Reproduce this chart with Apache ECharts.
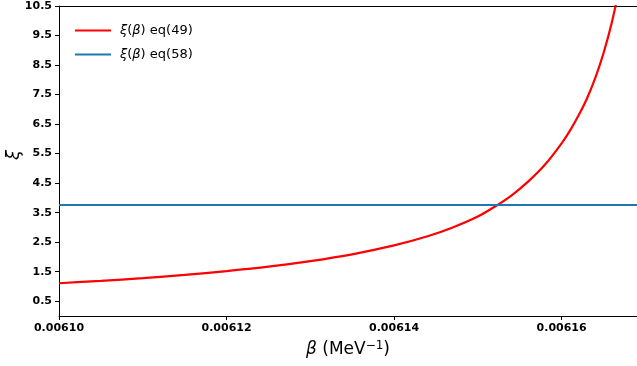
<!DOCTYPE html>
<html>
<head>
<meta charset="utf-8">
<script src="https://cdn.jsdelivr.net/npm/echarts@6/dist/echarts.min.js"></script>
<style>
  html, body { margin: 0; padding: 0; background: #fff; }
  #chart { width: 637px; height: 366px; }
</style>
</head>
<body>
<div id="chart"></div>
<script>
  // beta (MeV^-1) and xi values
  var beta49 = [0.006100, 0.006105, 0.006110, 0.006115, 0.006120, 0.006125, 0.006130, 0.006135,
    0.006140, 0.006144, 0.006147, 0.006150, 0.006152, 0.006154, 0.006156, 0.006158,
    0.006160, 0.006161, 0.006162, 0.006163, 0.006164, 0.006165, 0.006166, 0.006167];
  var xi49 = [1.11, 1.19, 1.28, 1.39, 1.52, 1.67, 1.86, 2.09,
    2.39, 2.70, 3.00, 3.37, 3.70, 4.08, 4.55, 5.12,
    5.85, 6.28, 6.78, 7.35, 8.05, 8.90, 9.95, 11.25];
  var beta58 = [0.006100, 0.006169];
  var xi58 = [3.76, 3.76];

  var xTicks = [0.00610, 0.00612, 0.00614, 0.00616];
  var yTicks = [0.5, 1.5, 2.5, 3.5, 4.5, 5.5, 6.5, 7.5, 8.5, 9.5, 10.5];

  function pairs(xs, ys) {
    return xs.map(function (x, i) { return [x, ys[i]]; });
  }

  var chart = echarts.init(document.getElementById('chart'));
  var fontFamily = 'DejaVu Sans';
  var labelStyle = { color: '#000', fontWeight: 'bold', fontSize: 11, fontFamily: fontFamily };

  chart.setOption({
    animation: false,
    textStyle: { fontFamily: fontFamily },
    grid: { left: 59, right: 0, top: 6, bottom: 50, containLabel: false, outerBoundsMode: 'none' },
    // y axis title, drawn rotated like matplotlib's ylabel
    graphic: [{
      type: 'text',
      x: 14,
      y: 155,
      rotation: Math.PI / 2,
      style: {
        text: 'ξ',
        fill: '#000',
        fontSize: 18,
        fontStyle: 'italic',
        fontFamily: fontFamily,
        align: 'center',
        verticalAlign: 'middle'
      }
    }],
    legend: {
      left: 70,
      top: 19,
      orient: 'vertical',
      itemGap: 11,
      itemWidth: 36,
      itemHeight: 2,
      icon: 'rect',
      data: ['eq49', 'eq58'],
      formatter: function (name) {
        return name === 'eq49' ? '{i|ξ}({i|β}) eq(49)' : '{i|ξ}({i|β}) eq(58)';
      },
      textStyle: {
        color: '#000',
        fontSize: 13,
        padding: [0, 0, 0, 4],
        fontFamily: fontFamily,
        rich: { i: { fontStyle: 'italic', fontSize: 13, fontFamily: fontFamily } }
      }
    },
    xAxis: [
      {
        type: 'value',
        min: 0.0061,
        max: 0.006169,
        name: '{i|β} (MeV{s|−1})',
        nameLocation: 'middle',
        nameGap: 24,
        nameTextStyle: {
          color: '#000',
          fontSize: 17,
          fontFamily: fontFamily,
          rich: {
            i: { fontStyle: 'italic', fontSize: 17, fontFamily: fontFamily },
            s: { fontSize: 12, verticalAlign: 'top', padding: [0, 0, 8, 0], fontFamily: fontFamily }
          }
        },
        axisLine: { lineStyle: { color: '#000', width: 1 } },
        axisTick: { length: 4, lineStyle: { color: '#000' }, customValues: xTicks },
        axisLabel: Object.assign({
          margin: 7,
          customValues: xTicks,
          formatter: function (v) { return v.toFixed(5); }
        }, labelStyle),
        splitLine: { show: false }
      },
      {
        type: 'value',
        position: 'top',
        min: 0.0061,
        max: 0.006169,
        axisLine: { lineStyle: { color: '#000', width: 1 } },
        axisTick: { show: false },
        axisLabel: { show: false },
        splitLine: { show: false }
      }
    ],
    yAxis: {
      type: 'value',
      min: 0,
      max: 10.5,
      axisLine: { show: true, lineStyle: { color: '#000', width: 1 } },
      axisTick: { length: 4, lineStyle: { color: '#000' }, customValues: yTicks },
      axisLabel: Object.assign({
        margin: 7,
        customValues: yTicks,
        formatter: function (v) { return v.toFixed(1); }
      }, labelStyle),
      splitLine: { show: false }
    },
    series: [
      {
        name: 'eq49',
        type: 'line',
        symbol: 'none',
        smooth: 0.25,
        clip: true,
        lineStyle: { color: '#ff0000', width: 2.2 },
        itemStyle: { color: '#ff0000' },
        data: pairs(beta49, xi49)
      },
      {
        name: 'eq58',
        type: 'line',
        symbol: 'none',
        lineStyle: { color: '#1f77b4', width: 2 },
        itemStyle: { color: '#1f77b4' },
        data: pairs(beta58, xi58)
      }
    ]
  });
</script>
</body>
</html>
